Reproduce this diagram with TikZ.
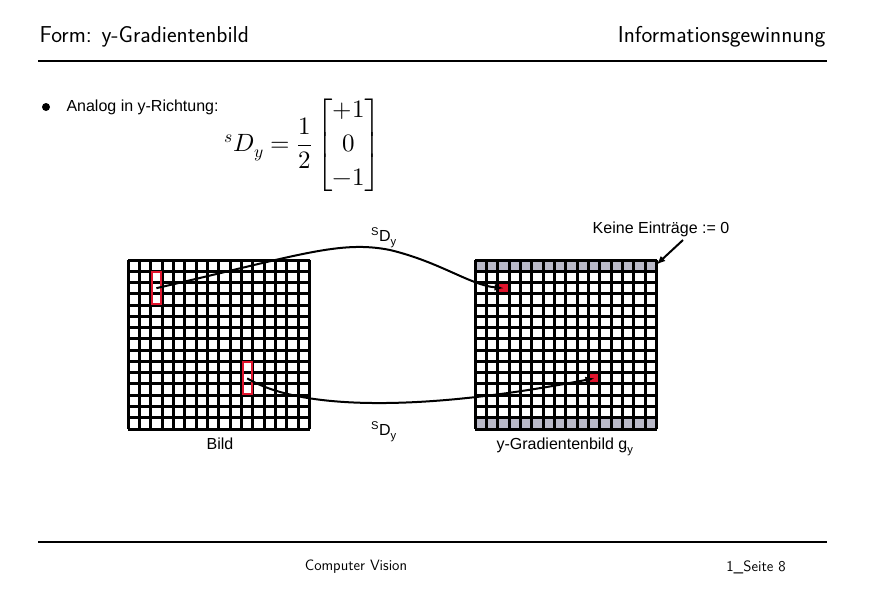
\documentclass[tikz,border=0pt]{standalone}
\usepackage{fontspec}
\setmainfont{Liberation Sans}
\usepackage{amsmath}
\usepackage{unicode-math}
\setmathfont{Latin Modern Math}
\definecolor{cellred}{RGB}{225,20,45}
\definecolor{cellgray}{RGB}{185,185,200}
\begin{document}
\begin{tikzpicture}[x=1pt,y=-1pt,
  hdr/.style={font=\fontsize{23}{26}\selectfont\sffamily},
  ftr/.style={font=\fontsize{15}{17}\selectfont\sffamily},
  lbl/.style={font=\fontsize{16}{18}\selectfont},
  gl/.style={line width=3pt},
  rb/.style={draw=cellred,line width=2pt},
  conn/.style={line width=2pt,-latex}]
\useasboundingbox (0,0) rectangle (870,600);
\node[hdr,anchor=west] (h1) at (36,37) {Form: y-Gradientenbild};
\node[hdr,anchor=east] (h2) at (829,37) {Informationsgewinnung};
\draw[line width=1.5pt] (38,61) -- (827,61);
\draw[line width=1.5pt] (38,542) -- (827,542);
\node[ftr] (f1) at (356,567) {Computer Vision};
\node[ftr] (f2) at (756,567) {1\_Seite 8};
\fill (46,107) circle (4);
\node[lbl,anchor=west] (an) at (63,107) {Analog in y-Richtung:};
\node (mx) at (303,145) {\fontsize{25}{30}\selectfont$\displaystyle {}^{s}D_{y}=\frac{1}{2}\begin{bmatrix}+1\\[4pt]0\\[4pt]-1\end{bmatrix}$};
\def\cw{11.35}\def\ch{11.27}
\begin{scope}[shift={(128,260)}]
\foreach \i in {0,...,16} \draw[gl] (\i*\cw,0) -- (\i*\cw,15*\ch);
\foreach \j in {0,...,15} \draw[gl] (0,\j*\ch) -- (16*\cw,\j*\ch);
\draw[rb] (2*\cw+1,1*\ch+1) rectangle (3*\cw-1,4*\ch-1);
\draw[rb] (10*\cw+1,9*\ch+1) rectangle (11*\cw-1,12*\ch-1);
\coordinate (a1) at (2.5*\cw,2.5*\ch);
\coordinate (a2) at (10.5*\cw,10.5*\ch);
\end{scope}
\begin{scope}[shift={(475,260)}]
\fill[cellgray] (0,0) rectangle (16*\cw,\ch);
\fill[cellgray] (0,14*\ch) rectangle (16*\cw,15*\ch);
\fill[cellred] (2*\cw,2*\ch) rectangle (3*\cw,3*\ch);
\fill[cellred] (10*\cw,10*\ch) rectangle (11*\cw,11*\ch);
\foreach \i in {0,...,16} \draw[gl] (\i*\cw,0) -- (\i*\cw,15*\ch);
\foreach \j in {0,...,15} \draw[gl] (0,\j*\ch) -- (16*\cw,\j*\ch);
\coordinate (b1) at (2.5*\cw,2.5*\ch);
\coordinate (b2) at (10.5*\cw,10.5*\ch);
\coordinate (tr) at (16*\cw,0.4*\ch);
\end{scope}
\draw[conn] (a1) .. controls (300,255) and (340,240) .. (390,250) .. controls (440,262) and (470,285) .. (b1);
\draw[conn] (a2) .. controls (300,410) and (420,412) .. (b2);
\node[lbl] (s1) at (384,238) {\textsuperscript{S}D\textsubscript{y}};
\node[lbl] (s2) at (384,432) {\textsuperscript{S}D\textsubscript{y}};
\node[lbl] (bild) at (220,444) {Bild};
\node[lbl] (gy) at (565,447) {y-Gradientenbild g\textsubscript{y}};
\node[lbl] (ke) at (661,229) {Keine Einträge := 0};
\draw[conn] (683,240) -- (tr);
\end{tikzpicture}
\end{document}
